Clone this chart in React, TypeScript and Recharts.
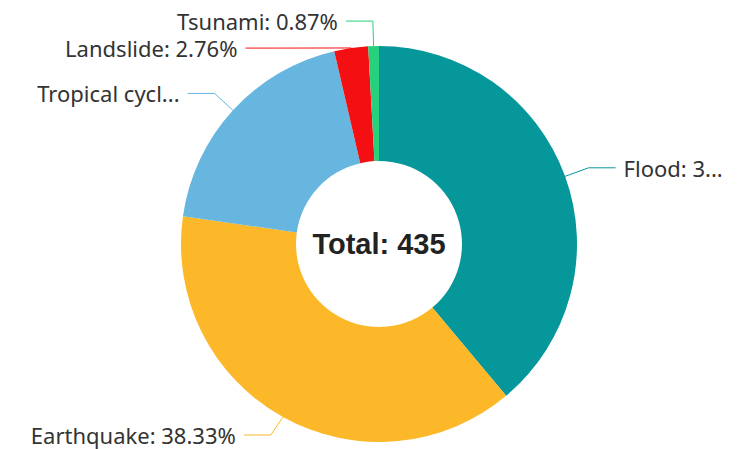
import React from 'react';
import { PieChart, Pie, Cell, Label } from 'recharts';

const categories = ['Flood', 'Earthquake', 'Tropical cyclone', 'Landslide', 'Tsunami'];
const shares = [38.9, 38.33, 19.14, 2.76, 0.87];
const colors = ['#06979b', '#fcb829', '#66b6e0', '#f40f12', '#26d07c'];
const totalText = 'Total: 435';

const data = categories.map((name, i) => ({ name, value: shares[i] }));

const W = 741;
const H = 449;
const CX = 379;
const CY = 244;
const R_OUT = 198;
const R_IN = 83;
const LEN1 = 25;
const LEN2 = 27;
const TEXT_GAP = 8;
const LINE_H = 27;
const FONT_SIZE = 22;
const FONT_FAMILY = '"Noto Sans", sans-serif';
const EDGE_MARGIN_RIGHT = 10;
const EDGE_MARGIN_LEFT = 29;
const BOTTOM_LIMIT = H - 14;

let ctx: CanvasRenderingContext2D | null = null;
function measure(t: string): number {
  if (!ctx) {
    const c = document.createElement('canvas');
    ctx = c.getContext('2d');
  }
  if (!ctx) return t.length * FONT_SIZE * 0.55;
  ctx.font = `${FONT_SIZE}px ${FONT_FAMILY}`;
  return ctx.measureText(t).width;
}

function truncate(t: string, maxW: number): string {
  if (measure(t) <= maxW) return t;
  for (let n = t.length - 1; n > 0; n--) {
    const s = t.slice(0, n) + '...';
    if (measure(s) <= maxW) return s;
  }
  return '...';
}

type Item = {
  i: number; dir: number; p0x: number; p0y: number; ex: number; ey: number;
  y: number; rA: number; text: string;
};

let cache: { key: string; items: Item[] } | null = null;

function computeLayout(cx: number, cy: number, r: number): Item[] {
  const key = `${cx}|${cy}|${r}`;
  if (cache && cache.key === key) return cache.items;
  const sum = shares.reduce((a, b) => a + b, 0);
  let acc = 0;
  const items: Item[] = shares.map((v, i) => {
    const a0 = (acc / sum) * 360;
    acc += v;
    const a1 = (acc / sum) * 360;
    const th = (((a0 + a1) / 2) * Math.PI) / 180;
    const s = Math.sin(th);
    const c = Math.cos(th);
    const rA = r + LEN1;
    return {
      i,
      dir: s < 0 ? -1 : 1,
      p0x: cx + r * s,
      p0y: cy - r * c,
      ex: cx + rA * s,
      ey: cy - rA * c,
      y: cy - rA * c,
      rA,
      text: `${categories[i]}: ${((v / sum) * 100).toFixed(2)}%`,
    };
  });
  [-1, 1].forEach((dir) => {
    const list = items.filter((d) => d.dir === dir).sort((a, b) => a.y - b.y);
    let shifted = false;
    for (let k = 1; k < list.length; k++) {
      if (list[k].y - list[k - 1].y < LINE_H) {
        list[k].y = list[k - 1].y + LINE_H;
        shifted = true;
      }
    }
    for (let k = list.length - 1; k >= 0; k--) {
      const lim = k === list.length - 1 ? BOTTOM_LIMIT : list[k + 1].y - LINE_H;
      if (list[k].y > lim) {
        list[k].y = lim;
        shifted = true;
      }
    }
    if (shifted) {
      const semis = [list.filter((d) => d.y < cy), list.filter((d) => d.y >= cy)];
      semis.forEach((semi) => {
        if (!semi.length) return;
        let top = semi[0];
        semi.forEach((d) => {
          if (Math.abs(d.y - cy) >= Math.abs(top.y - cy)) top = d;
        });
        const dyT = Math.abs(top.y - cy);
        const dxT = top.ex - cx;
        const rB = Math.abs(dxT) < top.rA ? Math.sqrt((dyT * dyT) / (1 - (dxT * dxT) / (top.rA * top.rA))) : top.rA;
        semi.forEach((d) => {
          const dy = Math.abs(d.y - cy);
          const f = Math.max(0, 1 - (dy * dy) / (rB * rB));
          d.ex = cx + d.dir * d.rA * Math.sqrt(f);
        });
      });
    }
  });
  cache = { key, items };
  return items;
}

function renderLabel(props: any) {
  const { index, cx, cy, outerRadius } = props;
  const items = computeLayout(Number(cx), Number(cy), Number(outerRadius));
  const d = items[index];
  if (!d) return null;
  const endX = d.ex + d.dir * LEN2;
  const textX = endX + d.dir * TEXT_GAP;
  const avail = d.dir > 0 ? W - textX - EDGE_MARGIN_RIGHT : textX - EDGE_MARGIN_LEFT;
  const txt = truncate(d.text, avail);
  return (
    <g>
      <polyline
        points={`${d.p0x},${d.p0y} ${d.ex},${d.y} ${endX},${d.y}`}
        fill="none"
        stroke={colors[index]}
        strokeWidth={1}
      />
      <text
        x={textX}
        y={d.y}
        textAnchor={d.dir > 0 ? 'start' : 'end'}
        dominantBaseline="central"
        fontSize={FONT_SIZE}
        fontFamily={FONT_FAMILY}
        fill="#333"
      >
        {txt}
      </text>
    </g>
  );
}

export default function App() {
  return (
    <div style={{ position: 'absolute', left: 0, top: 0, width: W, height: H, background: '#fff' }}>
      <PieChart width={W} height={H} margin={{ top: 0, right: 0, bottom: 0, left: 0 }}>
        <Pie
          data={data}
          dataKey="value"
          nameKey="name"
          cx={CX}
          cy={CY}
          innerRadius={R_IN}
          outerRadius={R_OUT}
          startAngle={90}
          endAngle={-270}
          stroke="none"
          label={renderLabel}
          labelLine={false}
          isAnimationActive={false}
        >
          {data.map((d, i) => (
            <Cell key={d.name} fill={colors[i]} />
          ))}
          <Label
            position="center"
            content={(p: any) => {
              const vb = p.viewBox || {};
              return (
                <text
                  x={vb.cx ?? CX}
                  y={vb.cy ?? CY}
                  textAnchor="middle"
                  dominantBaseline="central"
                  fontSize={29}
                  fontWeight="bold"
                  fontFamily='"Liberation Sans", Arial, sans-serif'
                  fill="#222"
                >
                  {totalText}
                </text>
              );
            }}
          />
        </Pie>
      </PieChart>
    </div>
  );
}
